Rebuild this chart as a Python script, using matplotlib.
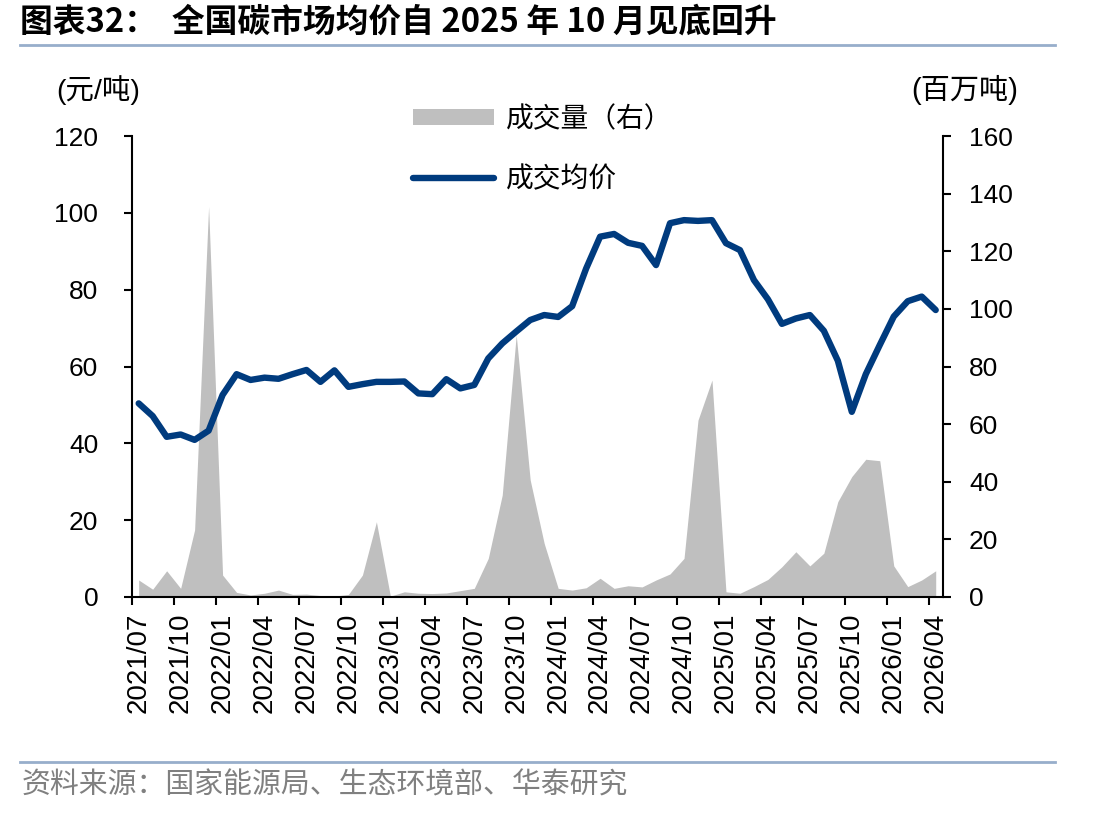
import numpy as np
import matplotlib
matplotlib.use("Agg")
import matplotlib.pyplot as plt
from matplotlib.lines import Line2D
from matplotlib.patches import Patch

plt.rcParams['font.family'] = ['Liberation Sans', 'Noto Sans CJK SC', 'DejaVu Sans']

# ---------------- data ----------------
price = [50.4, 47.1, 41.7, 42.3, 40.9, 43.3, 52.6, 58.0, 56.5, 57.1, 56.8, 58.0,
         59.1, 56.0, 59.0, 54.7, 55.4, 56.0, 56.0, 56.1, 53.0, 52.8, 56.7, 54.3,
         55.2, 62.1, 66.0, 69.1, 72.1, 73.4, 72.9, 75.7, 85.5, 93.8, 94.5, 92.2,
         91.4, 86.4, 97.3, 98.1, 97.9, 98.1, 92.1, 90.3, 82.5, 77.5, 71.1, 72.5,
         73.4, 69.3, 61.5, 48.2, 58.0, 65.6, 73.0, 77.0, 78.2, 74.7]
volume = [5.9, 2.7, 9.1, 3.0, 23.3, 135.5, 7.6, 1.6, 0.7, 1.3, 2.4, 0.9,
          1.0, 0.5, 0.3, 0.9, 7.6, 26.1, 0.3, 1.8, 1.3, 1.2, 1.4, 2.2,
          3.0, 13.4, 35.4, 90.9, 40.6, 18.6, 3.0, 2.4, 3.2, 6.5, 3.0, 3.9,
          3.5, 5.9, 8.0, 13.4, 61.4, 75.3, 1.8, 1.3, 3.6, 6.1, 10.5, 15.7,
          10.8, 15.2, 33.1, 41.8, 47.8, 47.3, 10.8, 3.6, 5.9, 9.1]
tick_labels = ['2021/07', '2021/10', '2022/01', '2022/04', '2022/07', '2022/10',
               '2023/01', '2023/04', '2023/07', '2023/10', '2024/01', '2024/04',
               '2024/07', '2024/10', '2025/01', '2025/04', '2025/07', '2025/10',
               '2026/01', '2026/04']
left_ticks = [0, 20, 40, 60, 80, 100, 120]
right_ticks = [0, 20, 40, 60, 80, 100, 120, 140, 160]

title = '图表32：  全国碳市场均价自 2025 年 10 月见底回升'
source = '资料来源：国家能源局、生态环境部、华泰研究'
legend_labels = ['成交量（右）', '成交均价']

NAVY = '#003B7E'
GREY = '#BFBFBF'
SEP = '#97AECB'
CJK = ['Noto Sans CJK SC', 'DejaVu Sans']

W, H = 1112, 816
fig = plt.figure(figsize=(W / 100, H / 100), dpi=100)
ax = fig.add_axes([131.7 / W, 1 - 597 / H, (942.7 - 131.7) / W, (597 - 136) / H])
ax2 = ax.twinx()

x = np.arange(len(price))
ax2.fill_between(x, volume, 0, color=GREY, linewidth=0)
ax.plot(x, price, color=NAVY, lw=4.6, solid_joinstyle='round', solid_capstyle='round')

ax.set_zorder(ax2.get_zorder() + 1)
ax.patch.set_visible(False)

ax.set_xlim(-0.5, len(price) - 0.5)
ax.set_ylim(0, 120)
ax2.set_ylim(0, 160)
ax.set_yticks(left_ticks)
ax2.set_yticks(right_ticks)

major = np.arange(-0.5, len(price) - 1, 3)
ax.set_xticks(major)
ax.set_xticklabels([''] * len(major))
ax.set_xticks(np.arange(0, len(price), 3), minor=True)
ax.set_xticklabels(tick_labels, minor=True, rotation=90)

for a in (ax, ax2):
    a.spines['top'].set_visible(False)
    for s in a.spines.values():
        s.set_linewidth(1.5)
        s.set_color('black')
ax.spines['right'].set_visible(False)
ax2.spines['left'].set_visible(False)
ax2.spines['bottom'].set_visible(False)

ax.tick_params(axis='x', which='major', direction='out', length=6, width=1.5)
ax.tick_params(axis='x', which='minor', length=0, pad=11.5, labelsize=20)
ax.tick_params(axis='y', direction='out', length=6, width=1.5, labelsize=19, pad=18)
ax2.tick_params(axis='y', direction='out', length=6, width=1.5, labelsize=19, pad=13)

# unit labels
fig.text(98 / W, 1 - 90 / H, '(元/吨)', fontsize=20.5, ha='center', va='center',
         family=['Liberation Sans', 'Noto Sans CJK SC'])
fig.text(965 / W, 1 - 90 / H, '(百万吨)', fontsize=21, ha='center', va='center',
         family=['Liberation Sans', 'Noto Sans CJK SC'])

# legend
handles = [Patch(facecolor=GREY, edgecolor='none'),
           Line2D([], [], color=NAVY, lw=4.6, solid_capstyle='round')]
fig.legend(handles, legend_labels, loc='upper left',
           bbox_to_anchor=(413 / W, 1 - 104 / H), frameon=False,
           borderpad=0, borderaxespad=0, handlelength=2.9, handleheight=0.5,
           handletextpad=0.45, labelspacing=1.08,
           prop={'family': CJK, 'size': 20})

# title, separators, source
fig.text(20 / W, 1 - 22 / H, title, fontsize=23.6, fontweight='bold',
         ha='left', va='center', family=CJK)
fig.add_artist(Line2D([20 / W, 1055 / W], [1 - 45 / H] * 2, color=SEP, lw=2))
fig.add_artist(Line2D([20 / W, 1055 / W], [1 - 762 / H] * 2, color=SEP, lw=2))
fig.text(22 / W, 1 - 786 / H, source, fontsize=20.8, color='#808080',
         ha='left', va='center', family=CJK)

fig.savefig('out.png', dpi=100)
